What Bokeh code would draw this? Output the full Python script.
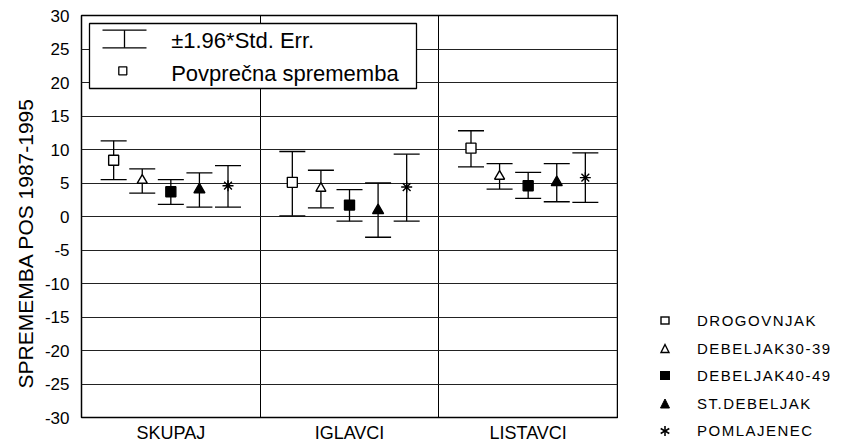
from bokeh.plotting import figure
from bokeh.layouts import row
from bokeh.models import (ColumnDataSource, Range1d, FixedTicker, Div,
                          BoxAnnotation, Whisker, TeeHead, Label, Title)
from bokeh.embed import file_html
from bokeh.resources import INLINE

# ---------------- data ----------------
categories = ["SKUPAJ", "IGLAVCI", "LISTAVCI"]
series = ["DROGOVNJAK", "DEBELJAK30-39", "DEBELJAK40-49", "ST.DEBELJAK", "POMLAJENEC"]

mean_drogovnjak = [8.4, 5.1, 10.2]
mean_deb30 = [5.4, 4.2, 6.0]
mean_deb40 = [3.7, 1.7, 4.6]
mean_stdeb = [4.0, 0.9, 5.1]
mean_pomlaj = [4.6, 4.4, 5.8]

upper_drogovnjak = [11.3, 9.7, 12.8]
upper_deb30 = [7.1, 6.9, 7.9]
upper_deb40 = [5.5, 4.0, 6.6]
upper_stdeb = [6.5, 5.0, 7.9]
upper_pomlaj = [7.6, 9.3, 9.5]

lower_drogovnjak = [5.5, 0.1, 7.4]
lower_deb30 = [3.5, 1.3, 4.1]
lower_deb40 = [1.8, -0.7, 2.7]
lower_stdeb = [1.4, -3.1, 2.2]
lower_pomlaj = [1.4, -0.7, 2.1]

y_ticks = list(range(-30, 31, 5))
y_title = "SPREMEMBA POS 1987-1995"
legend_err_label = "±1.96*Std. Err."
legend_mean_label = "Povprečna sprememba"

means = [mean_drogovnjak, mean_deb30, mean_deb40, mean_stdeb, mean_pomlaj]
uppers = [upper_drogovnjak, upper_deb30, upper_deb40, upper_stdeb, upper_pomlaj]
lowers = [lower_drogovnjak, lower_deb30, lower_deb40, lower_stdeb, lower_pomlaj]

# ---------------- style ----------------
offsets = [-0.32, -0.16, 0.0, 0.16, 0.32]
markers = ["square", "triangle", "square", "triangle", "asterisk"]
fills = ["white", "white", "black", "black", "black"]
sizes = [10, 10, 10, 11, 11]
FONT = "Liberation Sans"

p = figure(width=618, height=445, output_backend="svg", toolbar_location=None,
           x_range=Range1d(0, 3), y_range=Range1d(-30, 30),
           min_border_left=81, min_border_right=1, min_border_top=15, min_border_bottom=26)
p.background_fill_color = "white"
p.border_fill_color = "white"
p.outline_line_color = "black"
p.outline_line_width = 1.5

# axes
p.xaxis.ticker = FixedTicker(ticks=[i + 0.5 for i in range(len(categories))])
p.xaxis.major_label_overrides = {i + 0.5: c for i, c in enumerate(categories)}
p.xaxis.major_tick_line_color = None
p.xaxis.major_tick_out = 0
p.xaxis.major_tick_in = 0
p.xaxis.minor_tick_line_color = None
p.xaxis.axis_line_color = None
p.xaxis.major_label_text_font = FONT
p.xaxis.major_label_text_font_size = "18px"
p.xaxis.major_label_text_color = "black"
p.xaxis.major_label_standoff = 5

p.yaxis.ticker = FixedTicker(ticks=y_ticks)
p.yaxis.major_label_overrides = {t: str(t) for t in y_ticks}
p.yaxis.major_tick_line_color = None
p.yaxis.major_tick_out = 0
p.yaxis.major_tick_in = 0
p.yaxis.minor_tick_line_color = None
p.yaxis.axis_line_color = None
p.yaxis.major_label_text_font = FONT
p.yaxis.major_label_text_font_size = "17px"
p.yaxis.major_label_text_color = "black"
p.yaxis.major_label_standoff = 12

# y-axis title as a side title (offset to match the original position)
p.add_layout(Title(text=y_title, align="left", offset=29, text_font=FONT,
                   text_font_size="21px", text_font_style="normal",
                   text_color="black"), "left")

# grids
p.xgrid.ticker = FixedTicker(ticks=[1, 2])
p.xgrid.grid_line_color = "black"
p.xgrid.grid_line_width = 1
p.ygrid.ticker = FixedTicker(ticks=[t for t in y_ticks if abs(t) < 30])
p.ygrid.grid_line_color = "#222222"
p.ygrid.grid_line_width = 1

for i, name in enumerate(series):
    xs = [c + 0.5 + offsets[i] for c in range(len(categories))]
    src = ColumnDataSource(dict(x=xs, mean=means[i], up=uppers[i], lo=lowers[i]))
    p.segment("x", "lo", "x", "up", source=src, line_color="black", line_width=1.3)
    p.scatter("x", "up", source=src, marker="dash", size=26, line_color="black", line_width=1.3)
    p.scatter("x", "lo", source=src, marker="dash", size=26, line_color="black", line_width=1.3)
    p.scatter("x", "mean", source=src, marker=markers[i], size=sizes[i],
              fill_color=fills[i], line_color="black", line_width=1.4)

# inner legend box (screen units relative to frame)
p.add_layout(BoxAnnotation(left=8, right=335, bottom=329, top=394,
                           left_units="screen", right_units="screen",
                           bottom_units="screen", top_units="screen",
                           fill_color="white", fill_alpha=1.0,
                           line_color="black", line_width=1.3, line_alpha=1.0))
wsrc = ColumnDataSource(dict(b=[43], u=[387.3], l=[369.7]))
p.add_layout(Whisker(source=wsrc, base="b", upper="u", lower="l", dimension="height",
                     base_units="screen", upper_units="screen", lower_units="screen",
                     level="annotation", line_color="black", line_width=1.3,
                     upper_head=TeeHead(size=44, line_color="black", line_width=1.3),
                     lower_head=TeeHead(size=44, line_color="black", line_width=1.3)))
p.add_layout(BoxAnnotation(left=37.3, right=45.3, bottom=342.7, top=350.7,
                           left_units="screen", right_units="screen",
                           bottom_units="screen", top_units="screen",
                           fill_color="white", fill_alpha=1.0,
                           line_color="black", line_width=1.3, line_alpha=1.0))
p.add_layout(Label(x=89.7, y=377.3, x_units="screen", y_units="screen",
                   text=legend_err_label, text_baseline="middle", text_align="left",
                   text_font=FONT, text_font_size="22px", text_color="black"))
p.add_layout(Label(x=89.7, y=344, x_units="screen", y_units="screen",
                   text=legend_mean_label, text_baseline="middle", text_align="left",
                   text_font=FONT, text_font_size="22px", text_color="black"))

# ---------------- series legend (HTML panel to the right) ----------------
icons = {
    0: '<rect x="6" y="6" width="8" height="7" fill="white" stroke="black" stroke-width="1.4"/>',
    1: '<polygon points="10,5.5 14,13.5 6,13.5" fill="white" stroke="black" stroke-width="1.4"/>',
    2: '<rect x="5.5" y="5.5" width="9" height="8" fill="black" stroke="black" stroke-width="1"/>',
    3: '<polygon points="10,5 14.5,14 5.5,14" fill="black" stroke="black" stroke-width="1"/>',
    4: ('<g stroke="black" stroke-width="1.6"><line x1="10" y1="5" x2="10" y2="15"/>'
        '<line x1="5.7" y1="7.5" x2="14.3" y2="12.5"/><line x1="5.7" y1="12.5" x2="14.3" y2="7.5"/></g>'),
}
rows_html = []
for i, name in enumerate(series):
    top = 311 + i * 27.5
    rows_html.append(
        f'<div style="position:absolute;left:0;top:{top}px;width:225px;height:20px;">'
        f'<svg width="20" height="20" style="position:absolute;left:37px;top:0;">{icons[i]}</svg>'
        f'<span style="position:absolute;left:79px;top:0;line-height:20px;white-space:nowrap;">{name}</span>'
        f'</div>')
legend_html = (f'<div style="position:relative;width:225px;height:445px;'
               f'font-family:\'{FONT}\', Arial, sans-serif;font-size:15px;letter-spacing:1.5px;'
               f'color:black;background:white;">' + "".join(rows_html) + '</div>')
q = Div(text=legend_html, width=225, height=445, margin=0)

layout = row(p, q, spacing=0)
open("out.html", "w").write(file_html(layout, INLINE))
